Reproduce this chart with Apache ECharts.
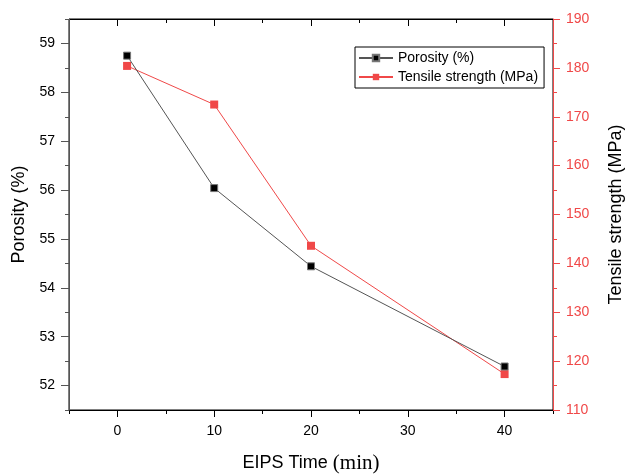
<!DOCTYPE html>
<html>
<head>
<meta charset="utf-8">
<script src="https://cdn.jsdelivr.net/npm/echarts@6/dist/echarts.min.js"></script>
<style>html,body{margin:0;padding:0;background:#fff;}#c{width:625px;height:474px;}</style>
</head>
<body>
<div id="c"></div>
<script>
const timeMin = [1, 10, 20, 40];
const porosity = [58.75, 56.04, 54.44, 52.39];
const tensile = [180.4, 172.5, 143.6, 117.35];
const xMajor = [0, 10, 20, 30, 40];
const xMinor = [-5, 5, 15, 25, 35, 45];
const yLeftMajor = [52, 53, 54, 55, 56, 57, 58, 59];
const yLeftMinor = [51.5, 52.5, 53.5, 54.5, 55.5, 56.5, 57.5, 58.5, 59.5];
const yRightMinor = [115, 125, 135, 145, 155, 165, 175, 185];

const RED = '#f04848';
const FONT = 'Liberation Sans';
const chart = echarts.init(document.getElementById('c'), null, {renderer: 'canvas'});

function xAx(pos, ticks, len, inside, showLine, opts) {
  return Object.assign({
    type: 'value', position: pos, min: -5, max: 45,
    axisLine: {show: showLine, onZero: false, lineStyle: {color: '#000', width: 1}},
    axisTick: {show: true, customValues: ticks, length: len, inside: inside, lineStyle: {color: '#000', width: 1}},
    axisLabel: {show: false},
    splitLine: {show: false},
    z: 5
  }, opts || {});
}
function yAx(pos, min, max, ticks, len, color, showLine, opts) {
  return Object.assign({
    type: 'value', position: pos, min: min, max: max,
    axisLine: {show: showLine, onZero: false, lineStyle: {color: color, width: 1}},
    axisTick: {show: true, customValues: ticks, length: len, inside: false, lineStyle: {color: color, width: 1}},
    axisLabel: {show: false},
    splitLine: {show: false},
    z: 6
  }, opts || {});
}

const option = {
  animation: false,
  backgroundColor: '#fff',
  grid: {left: 69, right: 72, top: 19, bottom: 64, containLabel: false, outerBoundsMode: 'none',
         show: true, borderColor: '#000', borderWidth: 1, backgroundColor: 'transparent'},
  legend: {
    show: true, orient: 'vertical', left: 355, top: 47,
    padding: [4, 6, 4, 3], itemGap: 5, itemWidth: 34, itemHeight: 8,
    borderColor: '#000', borderWidth: 1, backgroundColor: '#fff',
    textStyle: {fontFamily: FONT, fontSize: 14, color: '#000'},
    data: ['Porosity (%)', 'Tensile strength (MPa)']
  },
  xAxis: [
    xAx('bottom', xMajor, 7, false, true, {
      axisLabel: {show: true, customValues: xMajor, margin: 14, fontFamily: FONT, fontSize: 14, color: '#000'},
      name: '{a|EIPS Time }{b|(min)}', nameLocation: 'middle', nameGap: 43,
      nameTextStyle: {rich: {
        a: {fontFamily: FONT, fontSize: 18, color: '#000'},
        b: {fontFamily: 'Liberation Serif', fontSize: 21, color: '#000'}
      }}
    }),
    xAx('top', xMajor, 7, true, true),
    xAx('bottom', xMinor, 4, false, false),
    xAx('top', xMinor, 4, true, false)
  ],
  yAxis: [
    yAx('left', 51.5, 59.5, yLeftMajor, 8, '#555', true, {
      axisLabel: {show: true, customValues: yLeftMajor, margin: 14, fontFamily: FONT, fontSize: 14, color: '#000'},
      name: 'Porosity (%)', nameLocation: 'middle', nameGap: 35,
      nameTextStyle: {fontFamily: FONT, fontSize: 18, color: '#000'}
    }),
    yAx('right', 110, 190, null, 7, RED, true, {
      interval: 10,
      axisTick: {show: true, length: 7, inside: false, lineStyle: {color: RED, width: 1}},
      axisLabel: {show: true, margin: 13, fontFamily: FONT, fontSize: 14, color: RED},
      name: 'Tensile strength (MPa)', nameLocation: 'middle', nameGap: 54,
      nameTextStyle: {fontFamily: FONT, fontSize: 18, color: '#000'}
    }),
    yAx('left', 51.5, 59.5, yLeftMinor, 4, '#555', false),
    yAx('right', 110, 190, yRightMinor, 4, RED, false)
  ],
  series: [
    {
      name: 'Porosity (%)', type: 'line', xAxisIndex: 0, yAxisIndex: 0,
      data: timeMin.map((t, i) => [t, porosity[i]]),
      symbol: 'rect', symbolSize: 7,
      lineStyle: {color: '#555', width: 1},
      itemStyle: {color: '#000', borderColor: '#777', borderWidth: 1},
      z: 3
    },
    {
      name: 'Tensile strength (MPa)', type: 'line', xAxisIndex: 0, yAxisIndex: 1,
      data: timeMin.map((t, i) => [t, tensile[i]]),
      symbol: 'rect', symbolSize: 8,
      lineStyle: {color: RED, width: 1},
      itemStyle: {color: RED, borderColor: RED, borderWidth: 0},
      z: 2
    }
  ]
};
chart.setOption(option);
</script>
</body>
</html>
